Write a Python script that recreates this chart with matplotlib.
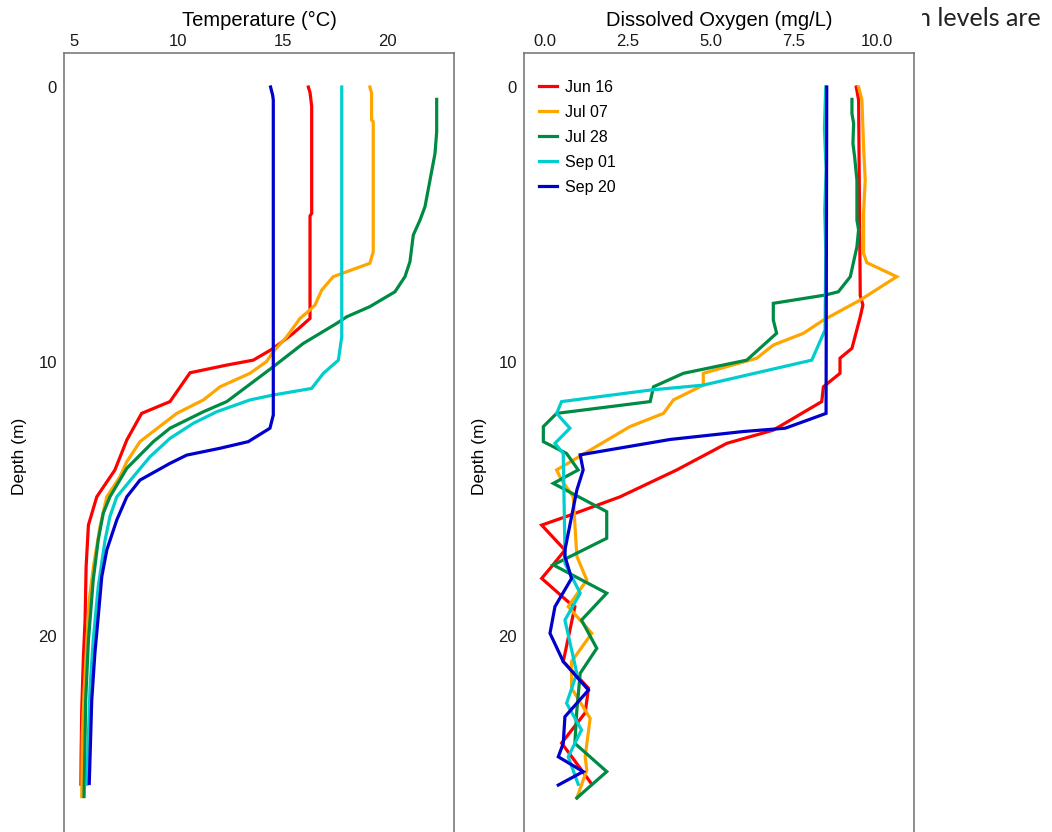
import matplotlib
matplotlib.use("Agg")
import matplotlib.pyplot as plt
from matplotlib.patches import Rectangle

plt.rcParams['font.family'] = ['Liberation Sans', 'DejaVu Sans']

dates = ["Jun 16", "Jul 07", "Jul 28", "Sep 01", "Sep 20"]
colors = ["#FF0000", "#FFA500", "#008B45", "#00CDCD", "#0000CD"]

# ---- Temperature profiles (depth m, temperature °C) ----
depth_t_jun16 = [0.0, 0.2, 0.7, 4.6, 4.7, 8.43, 8.97, 9.34, 9.56, 9.95, 10.13, 10.41, 11.46, 11.89,
                 12.86, 13.95, 14.93, 15.96, 17.48, 19.42, 20.75, 22.7, 24.4, 25.4]
temp_jun16 = [16.23, 16.31, 16.39, 16.39, 16.31, 16.31, 15.51, 14.87, 14.47, 13.59, 12.32, 10.56, 9.6, 8.24,
              7.53, 6.96, 6.09, 5.69, 5.58, 5.53, 5.45, 5.37, 5.34, 5.33]

depth_t_jul07 = [0.0, 0.23, 1.2, 1.26, 6.0, 6.42, 6.91, 7.4, 7.94, 8.12, 8.43, 9.1, 9.64, 10.0, 10.43,
                 10.92, 11.4, 11.89, 12.92, 13.65, 14.2, 14.93, 16.0, 17.47, 18.7, 20.27, 22.08, 23.55, 25.85]
temp_jul07 = [19.18, 19.26, 19.26, 19.34, 19.34, 19.18, 17.42, 16.87, 16.55, 16.31, 15.83, 15.19, 14.55, 14.23, 13.43,
              12.0, 11.2, 9.92, 8.16, 7.53, 7.2, 6.57, 6.25, 5.93, 5.73, 5.61, 5.48, 5.4, 5.37]

depth_t_jul28 = [0.45, 1.63, 2.42, 3.39, 4.36, 4.85, 5.39, 6.36, 6.91, 7.46, 8.0, 8.37, 8.61, 9.34, 10.19,
                 10.92, 11.46, 11.83, 12.43, 12.92, 13.89, 14.93, 15.53, 16.5, 17.96, 20.15, 22.33, 25.85]
temp_jul28 = [22.38, 22.38, 22.3, 22.06, 21.82, 21.58, 21.26, 21.1, 20.86, 20.38, 19.18, 18.07, 17.59, 15.99, 14.55,
              13.27, 12.32, 11.2, 9.6, 8.8, 7.53, 6.72, 6.4, 6.16, 5.92, 5.69, 5.56, 5.48]

depth_t_sep01 = [0.0, 9.1, 9.95, 10.43, 10.98, 11.22, 11.4, 11.83, 12.25, 12.8, 13.47, 14.2, 14.93, 15.65,
                 16.5, 18.2, 20.15, 21.85, 24.76, 25.4]
temp_sep01 = [17.83, 17.83, 17.67, 16.95, 16.39, 14.55, 13.43, 11.84, 10.72, 9.6, 8.64, 7.84, 7.05, 6.72,
              6.49, 6.16, 5.92, 5.77, 5.64, 5.62]

depth_t_sep20 = [0.0, 0.3, 0.47, 11.95, 12.43, 12.92, 13.16, 13.41, 13.71, 14.32, 14.93, 15.77, 16.87,
                 17.84, 19.3, 20.63, 22.33, 25.37]
temp_sep20 = [14.42, 14.52, 14.55, 14.55, 14.39, 13.35, 12.0, 10.4, 9.6, 8.16, 7.53, 7.05, 6.57,
              6.33, 6.16, 6.0, 5.85, 5.73]

# ---- Dissolved oxygen profiles (depth m, DO mg/L) ----
depth_o_jun16 = [0.0, 0.47, 7.6, 7.94, 8.37, 9.52, 9.88, 10.43, 10.92, 11.46, 12.5, 12.98, 13.95, 14.93,
                 15.6, 15.96, 16.87, 17.47, 17.9, 18.81, 18.93, 20.93, 21.9, 22.8, 23.9, 24.88, 25.4]
do_jun16 = [9.38, 9.45, 9.5, 9.58, 9.5, 9.25, 8.89, 8.89, 8.39, 8.34, 6.88, 5.48, 3.97, 2.26,
            0.75, -0.1, 0.6, 0.2, -0.1, 0.75, 0.9, 0.55, 1.31, 1.21, 0.5, 1.1, 1.41]

depth_o_jul07 = [0.0, 0.47, 2.17, 3.39, 4.6, 6.06, 6.4, 6.91, 7.76, 8.49, 8.97, 9.4, 9.88, 10.43, 10.86,
                 11.4, 11.89, 12.37, 13.95, 14.32, 14.93, 17.1, 17.96, 18.93, 19.9, 20.93, 21.9, 23.0,
                 24.4, 24.88, 25.9]
do_jul07 = [9.45, 9.55, 9.6, 9.65, 9.6, 9.6, 9.7, 10.6, 9.5, 8.39, 7.79, 6.88, 6.38, 4.77, 4.77,
            3.87, 3.57, 2.56, 0.35, 0.5, 0.85, 0.96, 1.26, 0.7, 1.41, 0.8, 0.8, 1.36,
            1.21, 1.26, 0.96]

depth_o_jul28 = [0.45, 0.97, 1.32, 2.06, 2.54, 3.39, 4.85, 5.2, 5.82, 6.91, 7.46, 7.58, 7.88, 8.49, 8.97,
                 9.95, 10.43, 10.92, 11.46, 11.89, 12.37, 12.92, 13.35, 13.95, 14.44, 15.47, 16.44,
                 17.41, 18.44, 19.42, 20.45, 21.36, 22.7, 23.91, 24.94, 25.9]
do_jul28 = [9.25, 9.25, 9.3, 9.28, 9.33, 9.4, 9.4, 9.45, 9.4, 9.2, 8.84, 8.44, 6.88, 6.88, 6.98,
            6.08, 4.17, 3.27, 3.17, 0.35, -0.05, -0.05, 0.65, 1.0, 0.25, 1.86, 1.86,
            0.25, 1.86, 1.1, 1.56, 1.06, 0.96, 0.9, 1.86, 0.96]

depth_o_sep01 = [0.0, 1.5, 3.0, 4.5, 6.0, 8.85, 9.95, 10.86, 11.04, 11.46, 11.89, 12.43, 12.98, 13.35,
                 16.87, 17.35, 18.44, 19.42, 21.36, 22.45, 23.42, 24.4, 25.4]
do_sep01 = [8.46, 8.42, 8.47, 8.43, 8.46, 8.44, 8.04, 4.77, 3.17, 0.5, 0.35, 0.75, 0.3, 0.55,
            0.6, 0.6, 1.06, 0.6, 0.96, 0.65, 1.1, 0.7, 1.0]

depth_o_sep20 = [0.0, 11.89, 12.43, 12.55, 12.84, 13.4, 13.95, 14.68, 16.87, 17.1, 17.9, 18.93, 19.9,
                 20.93, 21.97, 22.94, 23.91, 24.4, 24.94, 25.43]
do_sep20 = [8.49, 8.47, 7.24, 5.98, 3.77, 1.06, 1.15, 0.96, 0.6, 0.6, 0.8, 0.3, 0.15,
            0.55, 1.31, 0.6, 0.55, 0.4, 1.15, 0.4]

temp_depths = [depth_t_jun16, depth_t_jul07, depth_t_jul28, depth_t_sep01, depth_t_sep20]
temps = [temp_jun16, temp_jul07, temp_jul28, temp_sep01, temp_sep20]
do_depths = [depth_o_jun16, depth_o_jul07, depth_o_jul28, depth_o_sep01, depth_o_sep20]
dos = [do_jun16, do_jul07, do_jul28, do_sep01, do_sep20]

temp_ticks = [5, 10, 15, 20]
do_ticks = [0.0, 2.5, 5.0, 7.5, 10.0]
do_ticklabels = ["0.0", "2.5", "5.0", "7.5", "10.0"]
depth_ticks = [0, 10, 20]

W, H = 1052, 832
fig = plt.figure(figsize=(W / 100, H / 100), dpi=100)

top_px, bot_px = 52.7, 860
axh = (bot_px - top_px) / H
axb = (H - bot_px) / H
ax1 = fig.add_axes([64 / W, axb, 390 / W, axh])
ax2 = fig.add_axes([524 / W, axb, 390 / W, axh])

ylim = (28.16, -1.25)
lw = 2.3
for d, t, c, lab in zip(temp_depths, temps, colors, dates):
    ax1.plot(t, d, color=c, lw=lw, label=lab, solid_joinstyle='miter')
for d, o, c, lab in zip(do_depths, dos, colors, dates):
    ax2.plot(o, d, color=c, lw=lw, label=lab, solid_joinstyle='miter')

ax1.set_xlim(4.52, 23.21)
ax2.set_xlim(-0.633, 11.12)
ax1.set_xticks(temp_ticks, labels=[str(t) for t in temp_ticks])
ax2.set_xticks(do_ticks, labels=do_ticklabels)

for ax, title in [(ax1, "Temperature (°C)"), (ax2, "Dissolved Oxygen (mg/L)")]:
    ax.set_ylim(*ylim)
    ax.set_yticks(depth_ticks, labels=[str(t) for t in depth_ticks])
    ax.xaxis.tick_top()
    ax.xaxis.set_label_position('top')
    ax.set_xlabel(title, fontsize=14.5, labelpad=5.5)
    ax.set_ylabel("Depth (m)", fontsize=12.5, labelpad=8)
    ax.tick_params(axis='y', length=0, labelsize=12, pad=5, colors='#1a1a1a')
    ax.tick_params(axis='x', length=0, labelsize=12, pad=3, colors='#1a1a1a')
    for s in ax.spines.values():
        s.set_color('#7a7a7a')
        s.set_linewidth(1.2)

leg = ax2.legend(loc='upper left', bbox_to_anchor=(0.01, 0.98), frameon=False, fontsize=11.5,
                 handlelength=1.15, handletextpad=0.45, labelspacing=0.62, borderaxespad=0.3)

# cropped document text at the top right of the screenshot
fig.text(903 / W, 1 - 18 / H, "on levels are", fontsize=18, family=['Lato', 'DejaVu Sans'],
         va='center', ha='left', color='#222222', zorder=1)
fig.patches.append(Rectangle((880 / W, 1 - 30 / H), 42 / W, 30 / H, transform=fig.transFigure,
                             facecolor='white', edgecolor='none', zorder=5))

fig.savefig("out.png", dpi=100)
